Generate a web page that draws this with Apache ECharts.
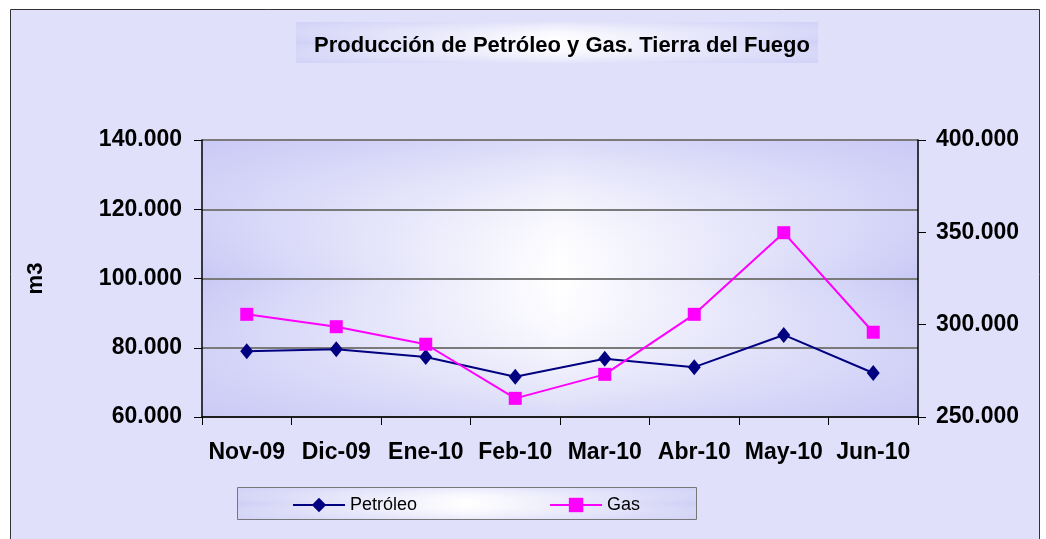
<!DOCTYPE html>
<html>
<head>
<meta charset="utf-8">
<script src="https://cdn.jsdelivr.net/npm/echarts@6/dist/echarts.min.js"></script>
<style>
  html, body { margin: 0; padding: 0; background: #fff; }
  #chart { width: 1046px; height: 539px; }
</style>
</head>
<body>
<div id="chart"></div>
<script>
// datos
const months = ['Nov-09', 'Dic-09', 'Ene-10', 'Feb-10', 'Mar-10', 'Abr-10', 'May-10', 'Jun-10']
const petroleo = [79000, 79600, 77300, 71600, 76800, 74400, 83700, 72700]
const gas = [305600, 298900, 289400, 260100, 273100, 305600, 349800, 295900]
const leftAxis = {min: 60000, max: 140000, interval: 20000}
const rightAxis = {min: 250000, max: 400000, interval: 50000}

const fmt = v => String(v).replace(/\B(?=(\d{3})+(?!\d))/g, '.')
const font = 'Liberation Sans, Arial, sans-serif'

const chart = echarts.init(document.getElementById('chart'))

// degradado "elíptico": uno horizontal y otro vertical encima
const linear = (horiz, edge, mid) => ({
  type: 'linear', x: 0, y: 0, x2: horiz ? 1 : 0, y2: horiz ? 0 : 1,
  colorStops: [
    {offset: 0, color: edge}, {offset: 0.5, color: mid}, {offset: 1, color: edge}
  ]
})
const panel = (x, y, w, h, edge, edgeA, z, stroke) => [
  {
    type: 'rect', z: z, silent: true,
    shape: {x: x, y: y, width: w, height: h},
    style: {fill: linear(true, edge, '#ffffff')}
  },
  {
    type: 'rect', z: z + 1, silent: true,
    shape: {x: x, y: y, width: w, height: h},
    style: {fill: linear(false, edgeA, 'rgba(255,255,255,0)'),
            stroke: stroke || null, lineWidth: 1}
  }
]

chart.setOption({
  animation: false,
  textStyle: {fontFamily: font},
  graphic: [
    {
      type: 'rect', z: -20, silent: true,
      shape: {x: 10.5, y: 9.5, width: 1029, height: 545},
      style: {fill: '#e0e0fb', stroke: '#333', lineWidth: 1}
    },
    ...panel(202, 140, 716, 277, '#c8c8f6', 'rgba(202,202,246,0.7)', -15),
    ...panel(296, 22, 522, 41, '#d0d0f7', 'rgba(210,210,248,0.6)', -15),
    ...panel(237.5, 487.5, 459, 32, '#cfcff6', 'rgba(210,210,248,0.5)', -15, '#777')
  ],
  title: {
    text: 'Producción de Petróleo y Gas. Tierra del Fuego',
    left: 557, top: 30, textAlign: 'center',
    textStyle: {fontSize: 22, fontWeight: 'bold', color: '#000', fontFamily: font}
  },
  legend: {
    left: 287, top: 491,
    itemWidth: 52, itemHeight: 18, itemGap: 132,
    textStyle: {fontSize: 18, color: '#000', fontFamily: font},
    data: ['Petróleo', 'Gas']
  },
  grid: {left: 202, right: 128, top: 140, bottom: 122},
  xAxis: {
    type: 'category',
    data: months,
    boundaryGap: true,
    axisLine: {lineStyle: {color: '#000', width: 1.5}},
    axisTick: {show: true, interval: 0, length: 8, inside: false, lineStyle: {color: '#000'}},
    axisLabel: {interval: 0, margin: 24, fontSize: 23, fontWeight: 'bold', color: '#000'}
  },
  yAxis: [
    {
      type: 'value',
      min: leftAxis.min, max: leftAxis.max, interval: leftAxis.interval,
      name: 'm3', nameLocation: 'middle', nameRotate: 90, nameGap: 155,
      nameMoveOverlap: false,
      nameTextStyle: {fontSize: 22, fontWeight: 'bold', color: '#000'},
      axisLine: {show: true, lineStyle: {color: '#000', width: 1.5}},
      axisTick: {show: true, length: 8, lineStyle: {color: '#000'}},
      axisLabel: {margin: 20, fontSize: 23, fontWeight: 'bold', color: '#000', formatter: fmt},
      splitLine: {show: true, lineStyle: {color: '#7a7a7a', width: 2}}
    },
    {
      type: 'value',
      position: 'right',
      min: rightAxis.min, max: rightAxis.max, interval: rightAxis.interval,
      axisLine: {show: true, lineStyle: {color: '#000', width: 1.5}},
      axisTick: {show: true, length: 8, lineStyle: {color: '#000'}},
      axisLabel: {margin: 18, fontSize: 23, fontWeight: 'bold', color: '#000', formatter: fmt},
      splitLine: {show: false}
    }
  ],
  series: [
    {
      name: 'Petróleo',
      type: 'line',
      yAxisIndex: 0,
      data: petroleo,
      symbol: 'diamond',
      symbolSize: [13, 16],
      lineStyle: {color: '#000080', width: 2},
      itemStyle: {color: '#000080'}
    },
    {
      name: 'Gas',
      type: 'line',
      yAxisIndex: 1,
      data: gas,
      symbol: 'rect',
      symbolSize: 13,
      lineStyle: {color: '#ff00ff', width: 2},
      itemStyle: {color: '#ff00ff'}
    }
  ]
})
</script>
</body>
</html>
